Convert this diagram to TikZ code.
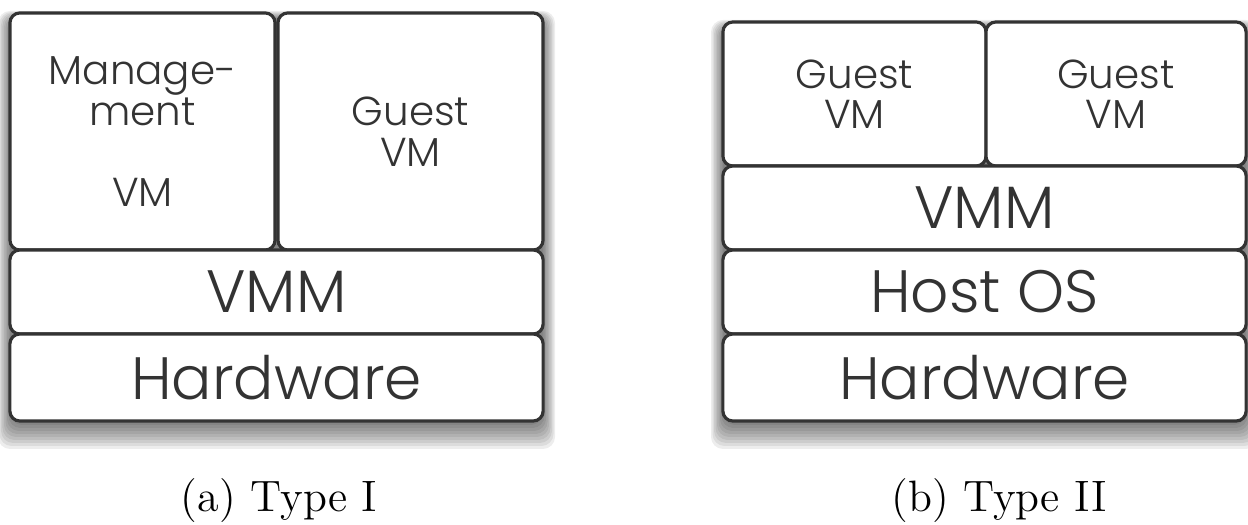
\documentclass[tikz,border=0pt]{standalone}
\usepackage{fontspec}
\newfontfamily\boxfont{Poppins Light}
\definecolor{edge}{HTML}{333333}
\newcommand{\softshadow}[4]{%
  \foreach \s in {0,3,...,24}
    \fill [black, opacity=0.07, rounded corners=0.12cm] (#1-\s/2,#2+6-\s/3) rectangle (#3+\s/2,#4+4+\s);}

\begin{document}
\begin{tikzpicture}[x=0.01cm,y=-0.01cm]
\tikzstyle{every node}+=[inner sep=0pt]
\tikzstyle{layer}=[draw=edge, fill=white, line width=0.9pt, rounded corners=0.1cm, text=edge, align=center]
\tikzstyle{biglabel}=[font=\boxfont\fontsize{17}{20}\selectfont]
\tikzstyle{smalllabel}=[font=\boxfont\fontsize{11.5}{11.5}\selectfont]
\tikzstyle{caption}=[font=\fontsize{12.5}{15}\selectfont]
\useasboundingbox (0,0) rectangle (1248,525);
\softshadow{10}{13}{543}{421}
\softshadow{723}{22}{1246}{421}
\node [layer, smalllabel, minimum width=2.65cm, minimum height=2.37cm] (mgmtvm) at (142.5,131.5) {Manage-\\ment\\~\\VM};
\node [layer, smalllabel, minimum width=2.65cm, minimum height=2.37cm] (guestvm) at (410.5,131.5) {Guest\\VM};
\node [layer, biglabel, minimum width=5.33cm, minimum height=0.84cm] (vmma) at (276.5,292) {VMM};
\node [layer, biglabel, minimum width=5.33cm, minimum height=0.87cm] (hwa) at (276.5,377.5) {Hardware};
\node [layer, smalllabel, minimum width=2.63cm, minimum height=1.44cm] (guestb1) at (854.5,94) {Guest\\VM};
\node [layer, smalllabel, minimum width=2.60cm, minimum height=1.44cm] (guestb2) at (1116,94) {Guest\\VM};
\node [layer, biglabel, minimum width=5.23cm, minimum height=0.84cm] (vmmb) at (984.5,208) {VMM};
\node [layer, biglabel, minimum width=5.23cm, minimum height=0.84cm] (hostos) at (984.5,292) {Host OS};
\node [layer, biglabel, minimum width=5.23cm, minimum height=0.87cm] (hwb) at (984.5,377.5) {Hardware};
\node [caption] (capa) at (279,501) {(a) Type I};
\node [caption] (capb) at (999,501) {(b) Type II};
\end{tikzpicture}
\end{document}
